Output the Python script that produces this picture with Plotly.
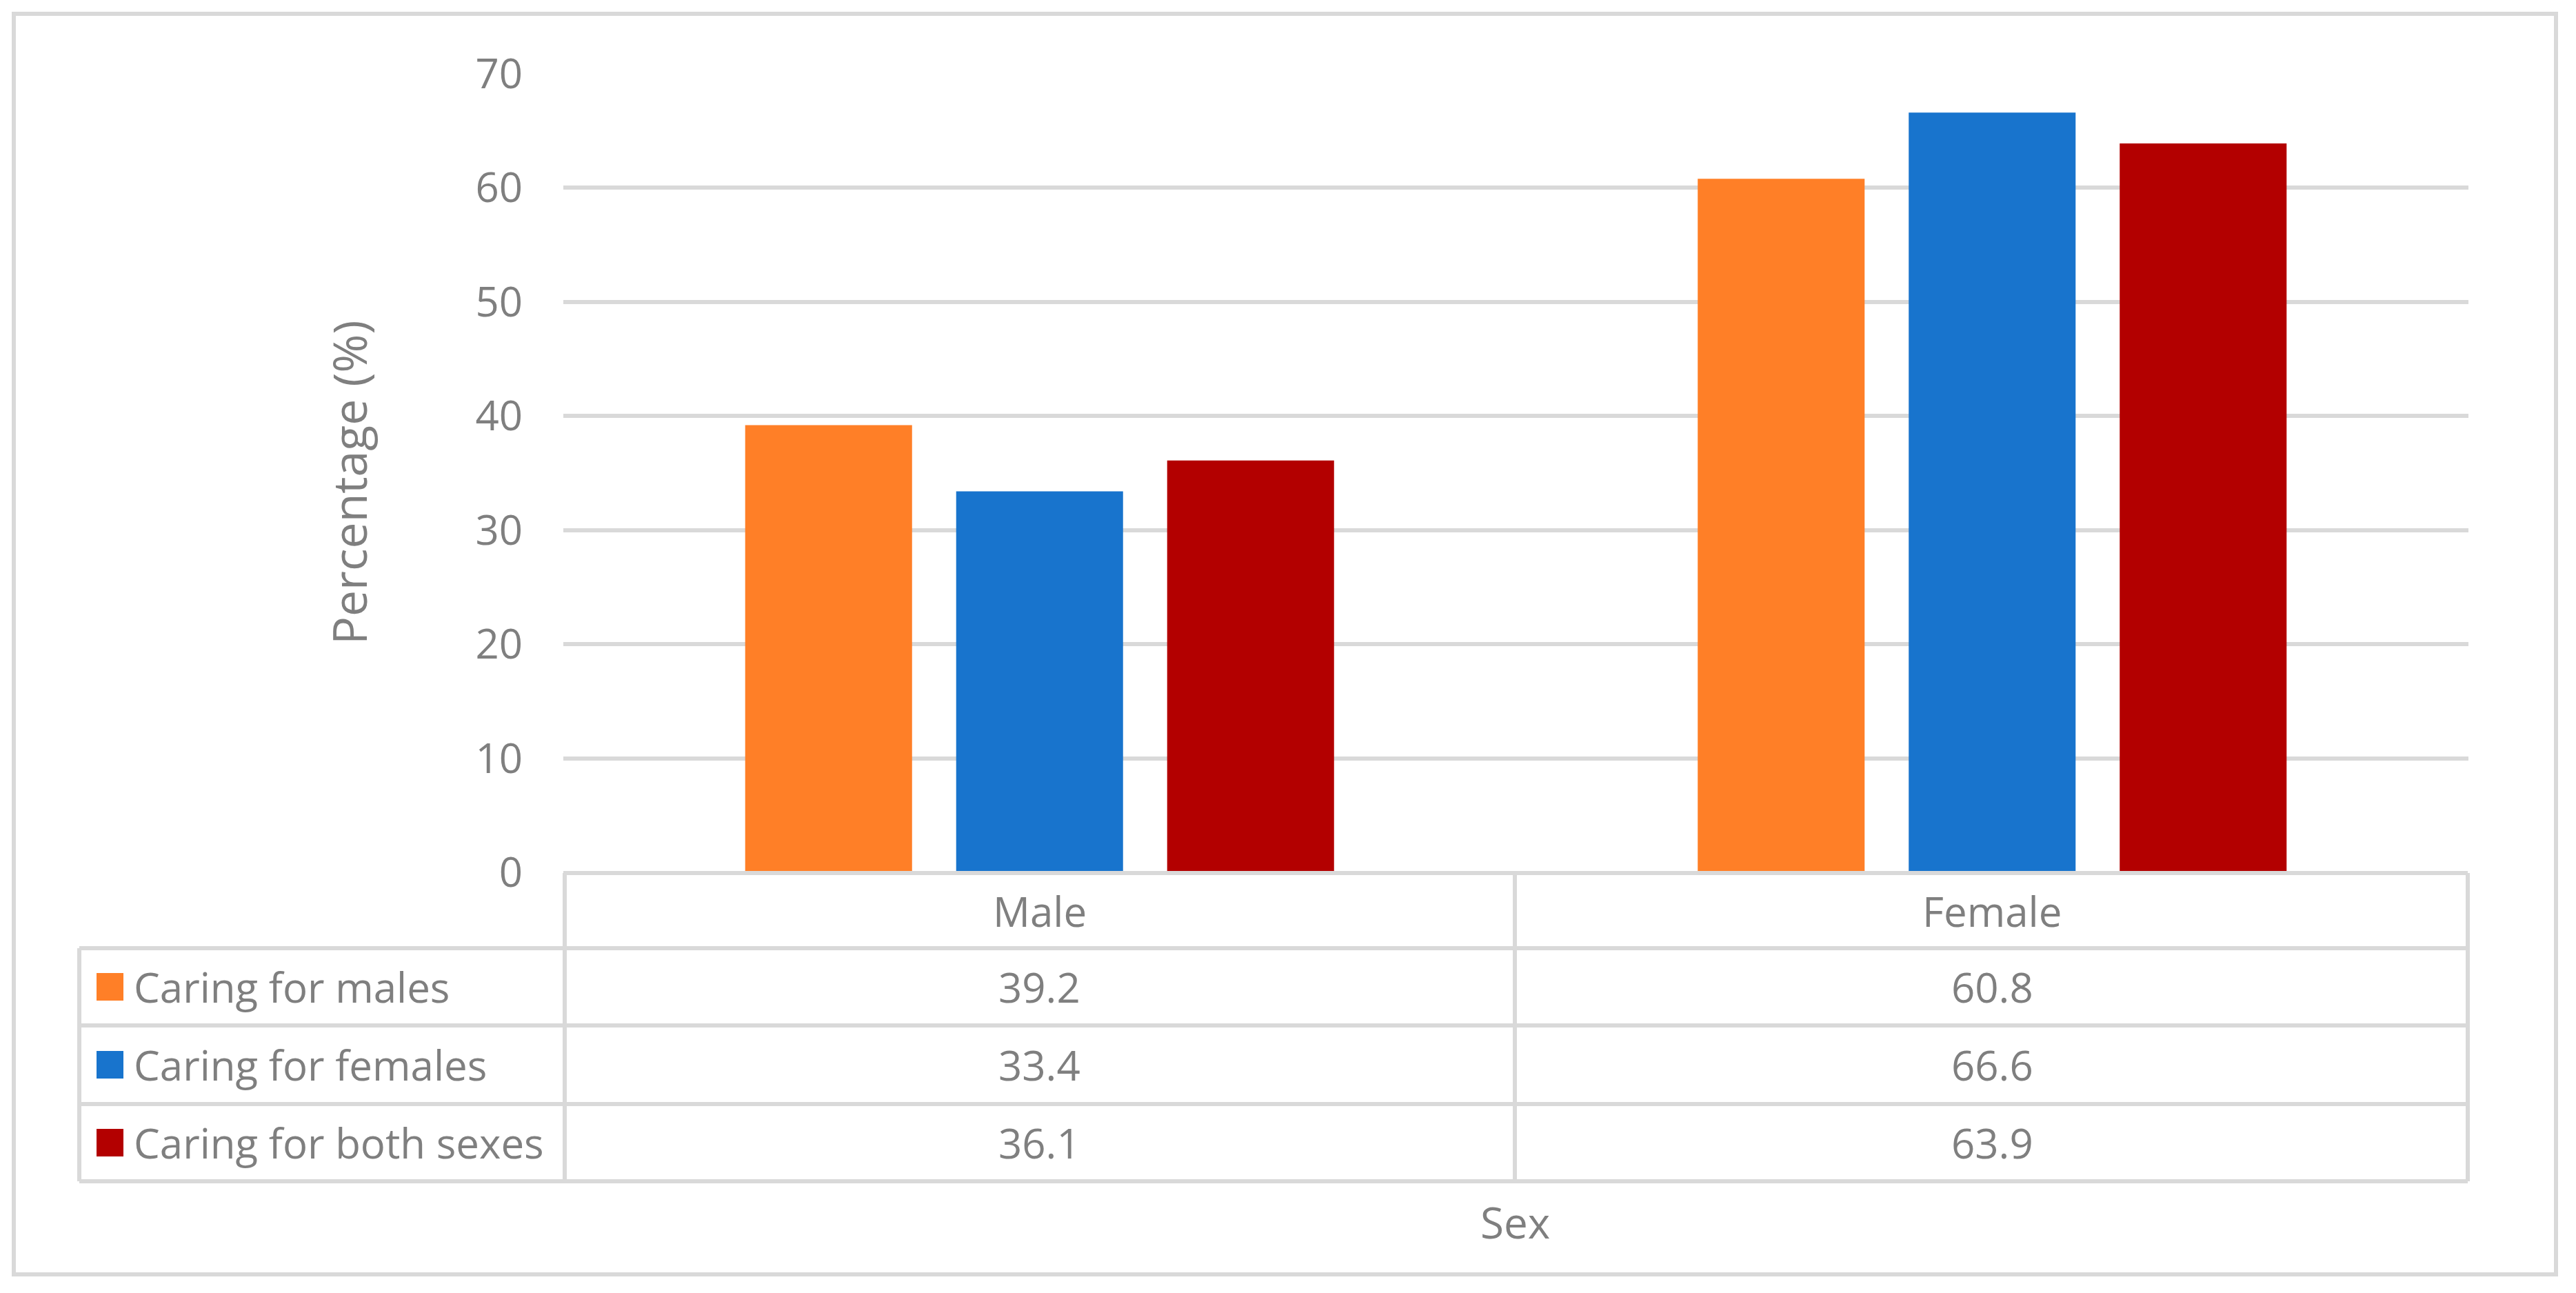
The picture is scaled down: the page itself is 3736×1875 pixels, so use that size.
import plotly.graph_objects as go

# ---- data ----
categories = ["Male", "Female"]
series_names = ["Caring for males", "Caring for females", "Caring for both sexes"]
caring_for_males = [39.2, 60.8]
caring_for_females = [33.4, 66.6]
caring_for_both = [36.1, 63.9]
y_ticks = [0, 10, 20, 30, 40, 50, 60, 70]
x_title = "Sex"
y_title = "Percentage (%)"

series_values = [caring_for_males, caring_for_females, caring_for_both]
colors = ["#FF7F27", "#1874CD", "#B30000"]

OFF = 8  # default page body margin
SW, SH = 3736, 1875
W, H = SW - OFF, SH - OFF
PL, PR, PT, PB = 817, 3580, 107, 1265  # plot area in screen pixels
GRID = "#D9D9D9"
TXT = "#7F7F7F"
FONT = "'Open Sans', Carlito, Calibri, Lato, sans-serif"
FS = 60
FT = 68
LW = 6


def px(x):
    return (x - PL) / (PR - PL)


def py(y):
    return (PB - y) / (PB - PT)


fig = go.Figure()
for name, vals, col in zip(series_names, series_values, colors):
    fig.add_trace(go.Bar(x=categories, y=vals, name=name, marker_color=col,
                         marker_line_width=0, showlegend=False))

fig.update_layout(
    width=W, height=H,
    margin=dict(l=PL - OFF, r=SW - PR, t=PT - OFF, b=SH - PB, autoexpand=False),
    paper_bgcolor="white", plot_bgcolor="white",
    barmode="group", bargap=0.3355, bargroupgap=0.209,
    font=dict(family=FONT, size=FS, color=TXT),
    xaxis=dict(type="category", categoryorder="array", categoryarray=categories,
               range=[-0.5, 1.5], showticklabels=False, showgrid=False,
               zeroline=False, showline=False, ticks=""),
    yaxis=dict(range=[0, 70], tickvals=y_ticks, showgrid=True, gridcolor=GRID,
               gridwidth=LW, zeroline=False, showline=False, ticks="",
               ticklabelstandoff=58, tickfont=dict(family=FONT, size=FS, color=TXT)),
)

shapes = []


def hline(y, x0, x1):
    shapes.append(dict(type="line", xref="paper", yref="paper",
                       x0=px(x0), x1=px(x1), y0=py(y), y1=py(y),
                       line=dict(color=GRID, width=LW)))


def vline(x, y0, y1):
    shapes.append(dict(type="line", xref="paper", yref="paper",
                       x0=px(x), x1=px(x), y0=py(y0), y1=py(y1),
                       line=dict(color=GRID, width=LW)))


# table grid
rows = [1266, 1375, 1487, 1601, 1713]
TL, MID, TR = 115, 2197, 3579
hline(rows[0], PL, TR)
for r in rows[1:]:
    hline(r, TL, TR)
vline(TL, rows[1], rows[-1])
vline(PL + 2, rows[0], rows[-1])
vline(MID, rows[0], rows[-1])
vline(TR, rows[0], rows[-1])

# outer border
shapes.append(dict(type="rect", xref="paper", yref="paper",
                   x0=px(20), x1=px(3707), y0=py(1848), y1=py(20),
                   line=dict(color=GRID, width=LW), fillcolor="rgba(0,0,0,0)"))

annotations = []
# header row category labels
hy = (rows[0] + rows[1]) / 2
for c in categories:
    annotations.append(dict(x=c, y=py(hy), xref="x", yref="paper", text=c,
                            showarrow=False, xanchor="center", yanchor="middle",
                            font=dict(family=FONT, size=FS, color=TXT)))

# data rows with legend keys
for i, (name, vals, col) in enumerate(zip(series_names, series_values, colors)):
    cy = (rows[i + 1] + rows[i + 2]) / 2
    shapes.append(dict(type="rect", xref="paper", yref="paper",
                       x0=px(140), x1=px(179), y0=py(cy + 20), y1=py(cy - 20),
                       line=dict(width=0), fillcolor=col))
    annotations.append(dict(x=px(192), y=py(cy), xref="paper", yref="paper",
                            text=name, showarrow=False, xanchor="left",
                            yanchor="middle",
                            font=dict(family=FONT, size=FS, color=TXT)))
    for c, v in zip(categories, vals):
        annotations.append(dict(x=c, y=py(cy), xref="x", yref="paper",
                                text=f"{v:.1f}", showarrow=False,
                                xanchor="center", yanchor="middle",
                                font=dict(family=FONT, size=FS, color=TXT)))

# axis titles
annotations.append(dict(x=px(MID), y=py(1772), xref="paper", yref="paper",
                        text=x_title, showarrow=False, xanchor="center",
                        yanchor="middle", font=dict(family=FONT, size=FS + 2, color=TXT)))
annotations.append(dict(x=px(505), y=py(700), xref="paper", yref="paper",
                        text=y_title, showarrow=False, textangle=-90,
                        xanchor="center", yanchor="middle",
                        font=dict(family=FONT, size=FT, color=TXT)))

fig.update_layout(shapes=shapes, annotations=annotations)
fig.write_html("out.html")
